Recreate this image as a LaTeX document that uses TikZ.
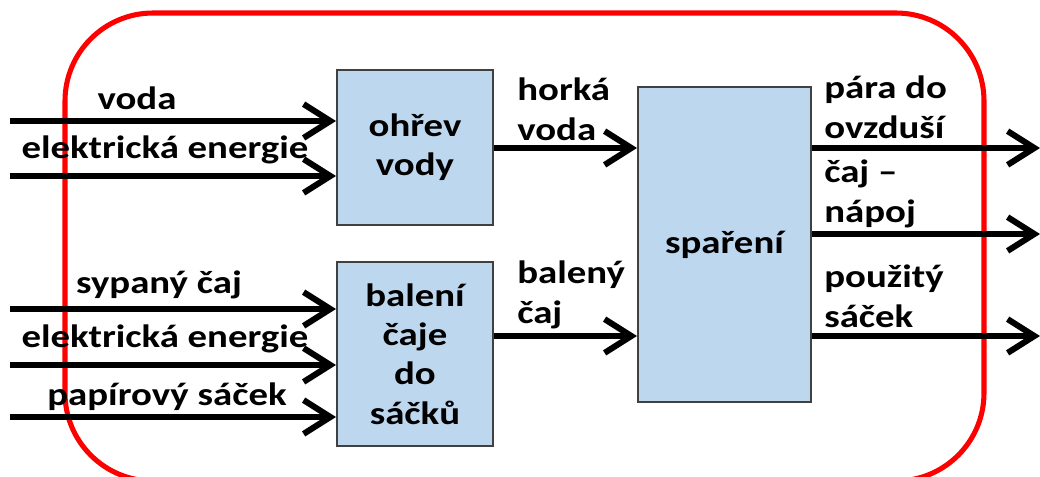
\documentclass[tikz,border=0pt]{standalone}
\usepackage{fontspec}
\setmainfont{Carlito}[FakeStretch=1.2]
\usetikzlibrary{arrows.meta}
\definecolor{procblue}{RGB}{189,215,238}
\newcommand\lblfont{\fontsize{23}{28}\selectfont\bfseries}
\begin{document}
\begin{tikzpicture}[x=0.025cm,y=-0.025cm,
  proc/.style={draw=black!75,line width=1.4pt,fill=procblue,align=center,font=\lblfont},
  flow/.style={line width=4.3pt,-{Straight Barb[length=19pt,width=24pt]}},
  lbl/.style={font=\lblfont,align=left,inner sep=0pt}]
  \useasboundingbox (0,0) rectangle (1040,476);
  % system boundary
  \draw [red,line width=3.6pt,rounded corners=2.2cm] (65,13) rectangle (984,481);
  % process boxes
  \node [proc,minimum width=3.9cm,minimum height=3.875cm] (ohrev) at (415,147.5) {ohřev\\vody};
  \node [proc,minimum width=3.9cm,minimum height=4.6cm] (baleni) at (415,354) {balení\\čaje\\do\\sáčků};
  \node [proc,minimum width=4.325cm,minimum height=7.875cm] (spareni) at (724.5,244.5) {spaření};
  % free ends of the flows
  \coordinate (voda) at (10,121);
  \coordinate (el1) at (10,176);
  \coordinate (caj) at (10,309);
  \coordinate (el2) at (10,365);
  \coordinate (sacek) at (10,417);
  \coordinate (para) at (1040,148);
  \coordinate (napoj) at (1040,234);
  \coordinate (pouzity) at (1040,336);
  % flows
  \draw [flow] (voda) -- (voda -| ohrev.west);
  \draw [flow] (el1) -- (el1 -| ohrev.west);
  \draw [flow] (caj) -- (caj -| baleni.west);
  \draw [flow] (el2) -- (el2 -| baleni.west);
  \draw [flow] (sacek) -- (sacek -| baleni.west);
  \draw [flow] (ohrev.east |- para) -- (spareni.west |- para);
  \draw [flow] (baleni.east |- pouzity) -- (spareni.west |- pouzity);
  \draw [flow] (spareni.east |- para) -- (para);
  \draw [flow] (spareni.east |- napoj) -- (napoj);
  \draw [flow] (spareni.east |- pouzity) -- (pouzity);
  % labels (base = last line)
  \node [lbl,anchor=base] (tvoda) at (137,109) {voda};
  \node [lbl,anchor=base] (tel1) at (165,158) {elektrická energie};
  \node [lbl,anchor=base] (tcaj) at (159,293) {sypaný čaj};
  \node [lbl,anchor=base] (tel2) at (165,347) {elektrická energie};
  \node [lbl,anchor=base] (tsacek) at (167,405) {papírový sáček};
  \node [lbl,anchor=base west] (thorka) at (517,140) {horká\\voda};
  \node [lbl,anchor=base west] (tbaleny) at (517,323) {balený\\čaj};
  \node [lbl,anchor=base west] (tpara) at (824,138) {pára do\\ovzduší};
  \node [lbl,anchor=base west] (tnapoj) at (824,222) {čaj –\\nápoj};
  \node [lbl,anchor=base west] (tpouzity) at (824,327) {použitý\\sáček};
\end{tikzpicture}
\end{document}
